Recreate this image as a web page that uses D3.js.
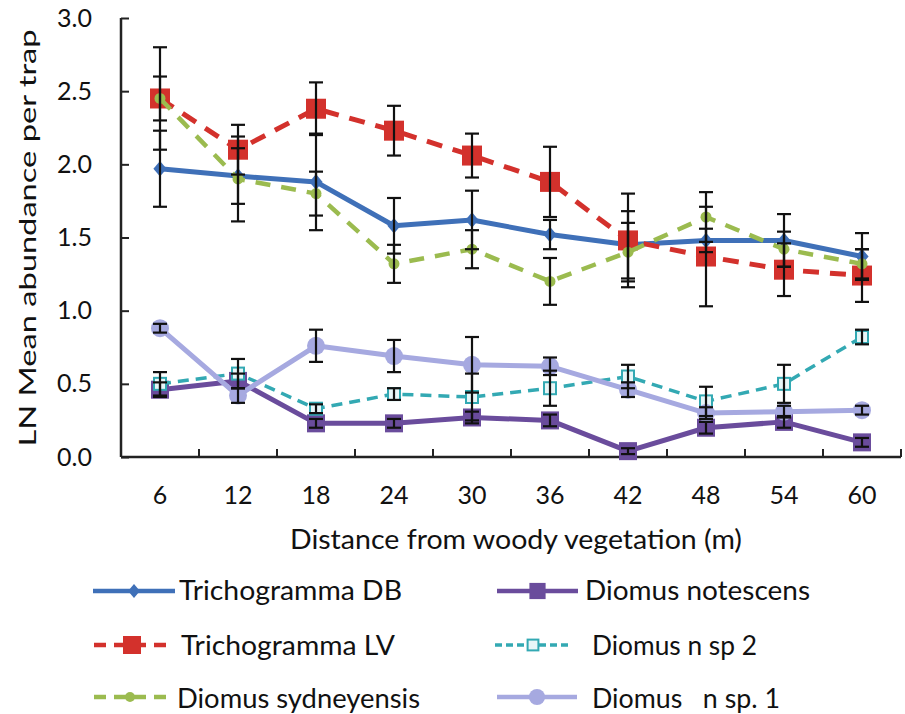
<!DOCTYPE html>
<html><head><meta charset="utf-8">
<script src="https://cdn.jsdelivr.net/npm/d3@7"></script>
<style>body{margin:0;background:#fff}svg{display:block}text{font-family:Lato,"Open Sans",sans-serif;fill:#111}</style>
</head><body><svg id="c" width="905" height="714"></svg>
<script>
const distances = ["6","12","18","24","30","36","42","48","54","60"];
const yTicks = [0,0.5,1.0,1.5,2.0,2.5,3.0];
const seriesNames = ["Trichogramma DB","Diomus notescens","Trichogramma LV","Diomus n sp 2","Diomus sydneyensis","Diomus   n sp. 1"];
const trichDB = [1.97,1.92,1.88,1.58,1.62,1.52,1.45,1.48,1.48,1.37];
const trichDBse = [0.26,0.19,0.33,0.19,0.20,0.10,0.23,0.08,0.18,0.16];
const trichLV = [2.45,2.10,2.38,2.23,2.06,1.88,1.48,1.37,1.28,1.24];
const trichLVse = [0.35,0.17,0.18,0.17,0.15,0.24,0.32,0.34,0.18,0.18];
const sydney = [2.45,1.90,1.80,1.32,1.42,1.20,1.40,1.64,1.42,1.32];
const sydneySe = [0.15,0.29,0.15,0.13,0.13,0.16,0.20,0.17,0.12,0.10];
const notescens = [0.46,0.52,0.23,0.23,0.27,0.25,0.04,0.20,0.24,0.10];
const notescensSe = [0.05,0.05,0.03,0.03,0.04,0.04,0.02,0.04,0.04,0.03];
const nsp2 = [0.50,0.57,0.33,0.43,0.41,0.47,0.55,0.38,0.50,0.82];
const nsp2Se = [0.08,0.10,0.03,0.04,0.16,0.12,0.08,0.10,0.13,0.05];
const nsp1 = [0.88,0.42,0.76,0.69,0.63,0.62,0.46,0.30,0.31,0.32];
const nsp1Se = [0.03,0.05,0.11,0.11,0.19,0.06,0.05,0.04,0.04,0.03];

const svg = d3.select("#c");
const x = d3.scaleBand().domain(distances).range([121,901]);
const y = d3.scaleLinear().domain([0,3]).range([457,18]);

const styles = {
  "Trichogramma DB": {color:"#3f70b8", width:5, dash:null, marker:"diamond", size:12},
  "Trichogramma LV": {color:"#d3312c", width:5, dash:"16,11", marker:"square", size:20},
  "Diomus sydneyensis": {color:"#9bbb4f", width:4.5, dash:"15,11", marker:"circle", size:11},
  "Diomus notescens": {color:"#6a4c9c", width:5, dash:null, marker:"square", size:18},
  "Diomus n sp 2": {color:"#33a9b3", width:3.5, dash:"11,7", marker:"open", size:12},
  "Diomus   n sp. 1": {color:"#a6a9e0", width:5, dash:null, marker:"circle", size:18}
};
const data = {
  "Trichogramma DB":[trichDB,trichDBse],
  "Trichogramma LV":[trichLV,trichLVse],
  "Diomus sydneyensis":[sydney,sydneySe],
  "Diomus notescens":[notescens,notescensSe],
  "Diomus n sp 2":[nsp2,nsp2Se],
  "Diomus   n sp. 1":[nsp1,nsp1Se]
};
const drawOrder = ["Trichogramma DB","Trichogramma LV","Diomus sydneyensis","Diomus notescens","Diomus n sp 2","Diomus   n sp. 1"];

function marker(g, st, cx, cy, k){
  const s = st.size*(k||1);
  if(st.marker==="diamond"){
    g.append("path").attr("d",`M${cx},${cy-s/2*1.3}L${cx+s/2*1.1},${cy}L${cx},${cy+s/2*1.3}L${cx-s/2*1.1},${cy}Z`).attr("fill",st.color);
  } else if(st.marker==="square"){
    g.append("rect").attr("x",cx-s/2).attr("y",cy-s/2).attr("width",s).attr("height",s).attr("fill",st.color);
  } else if(st.marker==="circle"){
    g.append("circle").attr("cx",cx).attr("cy",cy).attr("r",s/2).attr("fill",st.color);
  } else {
    g.append("rect").attr("x",cx-s/2).attr("y",cy-s/2).attr("width",s).attr("height",s).attr("fill","#e8f6f8").attr("stroke",st.color).attr("stroke-width",2);
  }
}

// axes
const yAxis = d3.axisLeft(y).tickValues(yTicks).tickFormat(d3.format(".1f")).tickSize(-8).tickPadding(29);
const ga = svg.append("g").attr("transform","translate(121,0)").call(yAxis);
ga.select(".domain").attr("d","M0,18V457").attr("stroke","#222").attr("stroke-width",2.5);
ga.selectAll(".tick line").attr("stroke","#222").attr("stroke-width",2);
ga.selectAll(".tick text").attr("font-size",25).attr("font-family","Lato").attr("fill","#111");

const bounds = distances.map(d=>x(d)).concat([x.range()[1]]);
const gx = svg.append("g");
gx.append("line").attr("x1",121).attr("x2",901).attr("y1",457).attr("y2",457).attr("stroke","#222").attr("stroke-width",2.5);
gx.selectAll("line.t").data(bounds).join("line").attr("class","t").attr("x1",d=>d).attr("x2",d=>d).attr("y1",449).attr("y2",457).attr("stroke","#222").attr("stroke-width",2);
gx.selectAll("text").data(distances).join("text").attr("x",d=>x(d)+x.bandwidth()/2).attr("y",504).attr("text-anchor","middle").attr("font-size",25).text(d=>d);

svg.append("text").attr("transform","translate(36,238) rotate(-90)").attr("text-anchor","middle").attr("font-size",24)
  .attr("textLength",417).attr("lengthAdjust","spacingAndGlyphs").text("LN Mean abundance per trap");
svg.append("text").attr("x",516).attr("y",549).attr("text-anchor","middle").attr("font-size",26)
  .attr("textLength",452).attr("lengthAdjust","spacingAndGlyphs").text("Distance from woody vegetation (m)");

const cx = d => x(d)+x.bandwidth()/2;
// lines and markers
drawOrder.forEach(name=>{
  const st = styles[name], vals = data[name][0];
  const g = svg.append("g");
  const line = d3.line().x((v,i)=>cx(distances[i])).y(v=>y(v));
  g.append("path").attr("d",line(vals)).attr("fill","none").attr("stroke",st.color).attr("stroke-width",st.width).attr("stroke-dasharray",st.dash).attr("stroke-linejoin","round");
  vals.forEach((v,i)=>marker(g,st,cx(distances[i]),y(v)));
});
// error bars
const ge = svg.append("g").attr("stroke","#111").attr("stroke-width",2.2);
drawOrder.forEach(name=>{
  const [vals,se] = data[name];
  vals.forEach((v,i)=>{
    const px = cx(distances[i]);
    const hi = y(v+se[i]), lo = y(Math.max(0,v-se[i]));
    ge.append("line").attr("x1",px).attr("x2",px).attr("y1",hi).attr("y2",lo);
    ge.append("line").attr("x1",px-7).attr("x2",px+7).attr("y1",hi).attr("y2",hi);
    ge.append("line").attr("x1",px-7).attr("x2",px+7).attr("y1",lo).attr("y2",lo);
  });
});

// legend: swatch start, swatch end, swatch y, text x, text baseline, text length
const legLayout = [
  [93,175,591,179,600,223],
  [497,578,591,585,600,225],
  [94,170,645,181,655,214],
  [495,571,645,592,655,165],
  [94,166,697,177,708,243],
  [497,577,697,592,708,188]
];
seriesNames.forEach((name,i)=>{
  const st = styles[name];
  const [x1,x2,ly,tx,tb,tl] = legLayout[i];
  const g = svg.append("g");
  g.append("line").attr("x1",x1).attr("x2",x2).attr("y1",ly).attr("y2",ly).attr("stroke",st.color).attr("stroke-width",Math.min(st.width,4.5)).attr("stroke-dasharray",st.dash ? (st.dash==="11,7"?"7,4":"12,8") : null);
  marker(g,st,(x1+x2)/2,ly,0.9);
  g.append("text").attr("x",tx).attr("y",tb).attr("font-size",27).style("white-space","pre")
    .attr("textLength",tl).attr("lengthAdjust","spacingAndGlyphs").text(name);
});
</script></body></html>
